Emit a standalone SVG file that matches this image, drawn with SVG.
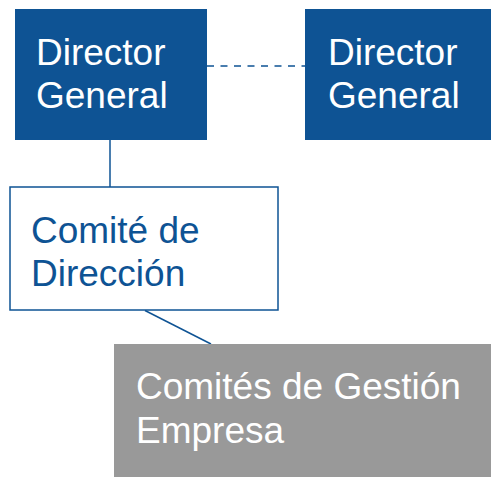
<svg xmlns="http://www.w3.org/2000/svg" width="491" height="477" viewBox="0 0 491 477">
<style>
.dark{fill:#0E5394}
.gray{fill:#999999}
.outline{fill:#ffffff;stroke:#0E5394;stroke-width:1.5}
.t{font-family:"Liberation Sans",Arial,sans-serif;font-size:37px}
.w{fill:#ffffff}
.b{fill:#0E5394}
.c{stroke:#0E5394;stroke-width:1.5;fill:none}
</style>
<g id="connectors">
<line class="c" x1="207" y1="66" x2="305" y2="66" stroke-dasharray="7,6.5"/>
<line class="c" x1="110" y1="140" x2="110" y2="187"/>
<line class="c" x1="145" y1="310.5" x2="211" y2="344"/>
</g>
<g id="dg1">
<rect class="dark" x="15" y="9" width="192" height="131"/>
<text class="t w" x="36" y="65">Director</text>
<text class="t w" x="36" y="108">General</text>
</g>
<g id="dg2">
<rect class="dark" x="305" y="9" width="186" height="131"/>
<text class="t w" x="328" y="65">Director</text>
<text class="t w" x="328" y="108">General</text>
</g>
<g id="comite">
<rect class="outline" x="10" y="187" width="268" height="123"/>
<text class="t b" x="31" y="243">Comité de</text>
<text class="t b" x="31" y="286">Dirección</text>
</g>
<g id="gestion">
<rect class="gray" x="114" y="344" width="377" height="133"/>
<text class="t w" x="136" y="399">Comités de Gestión</text>
<text class="t w" x="136" y="443">Empresa</text>
</g>
</svg>
